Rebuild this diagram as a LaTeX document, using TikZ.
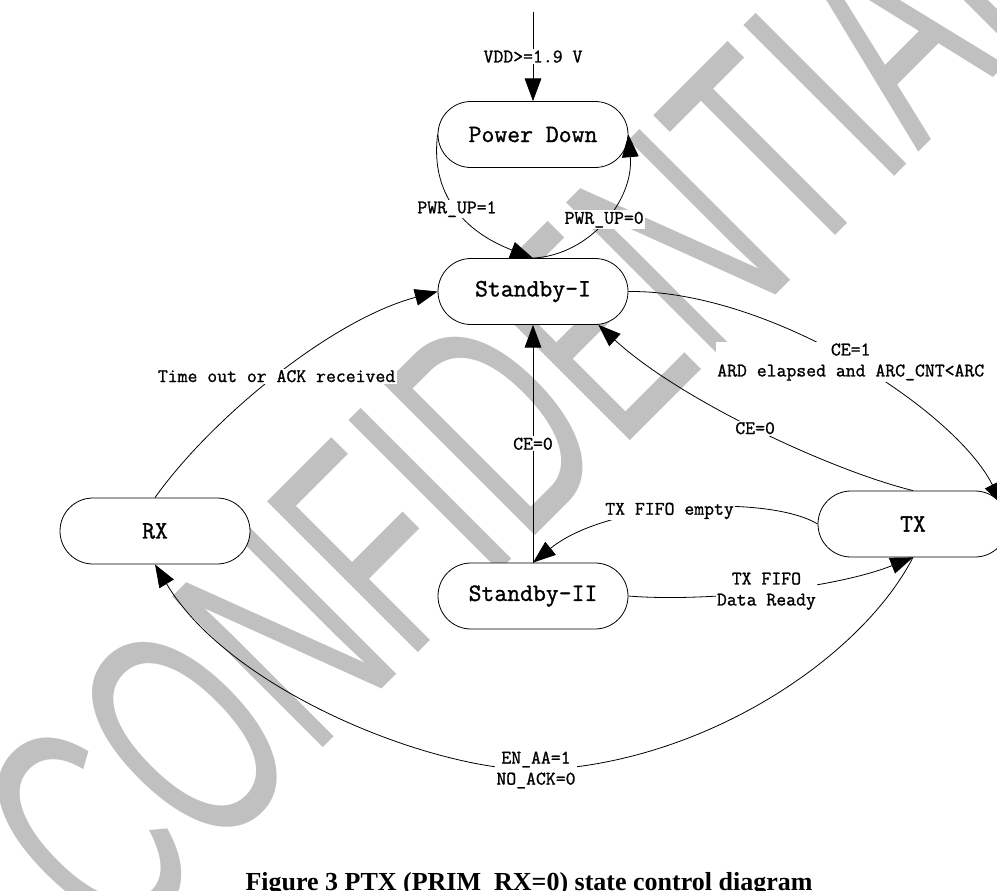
\documentclass[tikz,border=0pt]{standalone}
\usepackage{fontspec}
\setmonofont[FakeBold=1.2]{Latin Modern Mono}
\newfontfamily\wmfont{Liberation Sans}
\newfontfamily\capfont{Liberation Serif}
\usetikzlibrary{arrows.meta,shapes.misc}
\definecolor{wm}{RGB}{192,192,192}
\begin{document}
\begin{tikzpicture}[x=0.75pt,y=-0.75pt,
  state/.style={rounded rectangle, draw, fill=white, line width=0.6pt,
    minimum width=142.5pt, minimum height=49.5pt, inner sep=0pt,
    font=\ttfamily\fontsize{18.75pt}{20pt}\selectfont},
  lbl/.style={fill=white, inner sep=1pt, align=center,
    font=\ttfamily\fontsize{14.4pt}{15.75pt}\selectfont},
  arr/.style={-{Triangle[length=17pt,width=12.5pt]}, line width=0.6pt}]
\useasboundingbox (0,0) rectangle (997,890);
% watermark
\begin{scope}[shift={(115,956)},rotate=45,xscale=0.6]
\node[transform shape,anchor=base west,inner sep=0pt,outer sep=0pt,text=wm,
  font=\wmfont\fontsize{232.5pt}{240pt}\selectfont] (wmark) at (0,0) {CONFIDENTIAL};
\end{scope}
% states
\node[state] (pd) at (533,134.5) {Power Down};
\node[state] (s1) at (533,291.5) {Standby-I};
\node[state] (s2) at (533,596) {Standby-II};
\node[state] (rx) at (155,531) {RX};
\node[state] (tx) at (913,524) {TX};
\coordinate (vin) at (533,12);
% transitions
\draw[arr] (vin) -- node[lbl]{VDD>=1.9 V} (pd.north);
\draw[arr] (pd.west) .. controls (430,195) and (465,232) .. node[lbl]{PWR\_UP=1} (s1.north);
\draw[arr] (s1.north) .. controls (590,255) and (634,200) .. node[lbl]{PWR\_UP=0} (pd.east);
\draw[arr] (s1.east) .. controls (770,290) and (955,410) .. node[lbl]{CE=1\\ARD elapsed and ARC\_CNT<ARC} (tx.12);
\draw[arr] (tx.north) .. controls (830,470) and (680,400) .. node[lbl]{CE=0} (s1.-27);
\draw[arr] (tx.west) .. controls (770,495) and (610,500) .. node[lbl,pos=0.55]{TX FIFO empty} (s2.north);
\draw[arr] (s2.east) .. controls (700,602) and (830,590) .. node[lbl]{TX FIFO\\Data Ready} (tx.south);
\draw[arr] (tx.south) .. controls (860,660) and (700,765) .. (536,770) node[lbl]{EN\_AA=1\\NO\_ACK=0} .. controls (430,770) and (230,690) .. (rx.south);
\draw[arr] (rx.north) .. controls (210,420) and (330,320) .. node[lbl]{Time out or ACK received} (s1.west);
\draw[arr] (s2.north) -- node[lbl]{CE=0} (s1.south);
% caption
\node[anchor=base, inner sep=0pt, font=\capfont\bfseries\fontsize{19.5pt}{22pt}\selectfont] (cap) at (529,890.5) {Figure 3 PTX (PRIM\_RX=0) state control diagram};
\end{tikzpicture}
\end{document}
